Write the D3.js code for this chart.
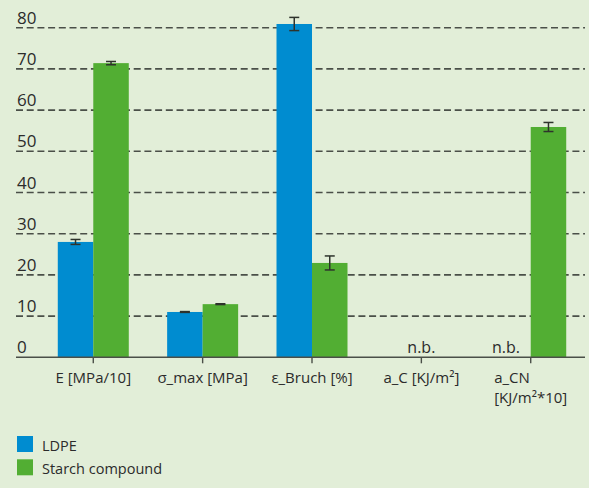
<!DOCTYPE html>
<html>
<head>
<meta charset="utf-8">
<script src="https://cdn.jsdelivr.net/npm/d3@7"></script>
<style>
  html, body { margin: 0; padding: 0; background: #e2eed8; }
  svg { display: block; font-family: "Open Sans", "Noto Sans", sans-serif; }
</style>
</head>
<body>
<svg id="chart" width="589" height="488"></svg>
<script>
// Mechanical properties: LDPE vs. starch compound
const categories = ["E [MPa/10]", "σ_max [MPa]", "ε_Bruch [%]", "a_C [KJ/m²]", "a_CN\n[KJ/m²*10]"];
const seriesNames = ["LDPE", "Starch compound"];
const ldpeValues = [28.0, 11.0, 80.9, null, null];
const ldpeErrors = [0.6, 0.1, 1.6, null, null];
const starchValues = [71.4, 12.9, 22.9, null, 55.9];
const starchErrors = [0.4, 0.1, 1.7, null, 1.1];
const yTicks = [0, 10, 20, 30, 40, 50, 60, 70, 80];
// categories without a break value ("nicht bestimmt")
const notDetermined = [
  { cat: 3, series: null },
  { cat: 4, series: 0 }
];

const colors = ["#008cd0", "#52ae33"];
const textColor = "#2b2b2b";
const gridColor = "#4a4f48";

const svg = d3.select("#chart");

const y = d3.scaleLinear().domain([0, 80]).range([357.3, 27.7]);
const x = d3.scaleBand().domain(categories).range([38.6, 585.4]).paddingInner(0).paddingOuter(0);
const pairWidth = 71;
const x1 = d3.scaleBand().domain(seriesNames).range([0, pairWidth]);

const series = [
  { name: seriesNames[0], values: ldpeValues, errors: ldpeErrors, color: colors[0] },
  { name: seriesNames[1], values: starchValues, errors: starchErrors, color: colors[1] }
];

const gridLeft = 16, gridRight = 585;

// dashed grid lines
svg.append("g")
  .selectAll("line")
  .data(yTicks.filter(d => d > 0))
  .join("line")
  .attr("x1", gridLeft).attr("x2", gridRight)
  .attr("y1", d => y(d)).attr("y2", d => y(d))
  .attr("stroke", gridColor)
  .attr("stroke-width", 1.6)
  .attr("stroke-dasharray", "7,3.7");

// y tick labels sit above their grid line
svg.append("g")
  .selectAll("text")
  .data(yTicks)
  .join("text")
  .attr("x", 17)
  .attr("y", d => y(d) - 4)
  .attr("fill", textColor)
  .attr("font-size", 17)
  .text(d => d);

const barLeft = (i, s) => x(categories[i]) + x.bandwidth() / 2 - pairWidth / 2 + x1(s);

// bars
series.forEach(s => {
  const g = svg.append("g");
  const pts = s.values.map((v, i) => ({ v, e: s.errors[i], i })).filter(d => d.v != null);
  g.selectAll("rect")
    .data(pts)
    .join("rect")
    .attr("x", d => barLeft(d.i, s.name))
    .attr("width", x1.bandwidth())
    .attr("y", d => y(d.v))
    .attr("height", d => y(0) - y(d.v))
    .attr("fill", s.color);
});

// error bars
series.forEach(s => {
  const pts = s.values.map((v, i) => ({ v, e: s.errors[i], i })).filter(d => d.v != null && d.e != null);
  const g = svg.append("g").attr("stroke", "#2e332c").attr("stroke-width", 1.5);
  const cx = d => barLeft(d.i, s.name) + x1.bandwidth() / 2;
  g.selectAll("line.v").data(pts).join("line")
    .attr("x1", cx).attr("x2", cx)
    .attr("y1", d => y(d.v + d.e)).attr("y2", d => y(d.v - d.e));
  g.selectAll("line.t").data(pts).join("line")
    .attr("x1", d => cx(d) - 5).attr("x2", d => cx(d) + 5)
    .attr("y1", d => y(d.v + d.e)).attr("y2", d => y(d.v + d.e));
  g.selectAll("line.b").data(pts).join("line")
    .attr("x1", d => cx(d) - 5).attr("x2", d => cx(d) + 5)
    .attr("y1", d => y(d.v - d.e)).attr("y2", d => y(d.v - d.e));
});

// baseline axis with ticks below
svg.append("line")
  .attr("x1", gridLeft).attr("x2", gridRight)
  .attr("y1", y(0)).attr("y2", y(0))
  .attr("stroke", "#4a4f48").attr("stroke-width", 1.6);
svg.append("g")
  .selectAll("line")
  .data(categories)
  .join("line")
  .attr("x1", d => x(d) + x.bandwidth() / 2).attr("x2", d => x(d) + x.bandwidth() / 2)
  .attr("y1", y(0)).attr("y2", y(0) + 6)
  .attr("stroke", "#4a4f48").attr("stroke-width", 1.4);

// category labels (multi-line labels form a left-aligned block centred on the tick)
categories.forEach(c => {
  const lines = c.split("\n");
  const cx = x(c) + x.bandwidth() / 2;
  const t = svg.append("text")
    .attr("fill", textColor)
    .attr("font-size", 15)
    .attr("y", 383);
  lines.forEach((ln, k) => {
    t.append("tspan").attr("dy", k === 0 ? 0 : 19.5).text(ln);
  });
  if (lines.length === 1) {
    t.attr("text-anchor", "middle").attr("x", cx);
  } else {
    const w = d3.max(t.selectAll("tspan").nodes(), n => n.getComputedTextLength());
    t.selectAll("tspan").attr("x", cx - w / 2);
  }
});

// "n.b." markers
notDetermined.forEach(d => {
  const c = categories[d.cat];
  const cx = d.series == null
    ? x(c) + x.bandwidth() / 2
    : barLeft(d.cat, seriesNames[d.series]) + x1.bandwidth() / 2 - 7;
  svg.append("text")
    .attr("x", cx)
    .attr("y", 352.5)
    .attr("text-anchor", "middle")
    .attr("fill", textColor)
    .attr("font-size", 16)
    .text("n.b.");
});

// legend
const legend = svg.append("g");
series.forEach((s, i) => {
  const top = 436 + i * 23.3;
  legend.append("rect")
    .attr("x", 17).attr("y", top)
    .attr("width", 16).attr("height", 16)
    .attr("fill", s.color);
  legend.append("text")
    .attr("x", 42).attr("y", top + 15)
    .attr("fill", textColor)
    .attr("font-size", 14.5)
    .text(s.name);
});
</script>
</body>
</html>
